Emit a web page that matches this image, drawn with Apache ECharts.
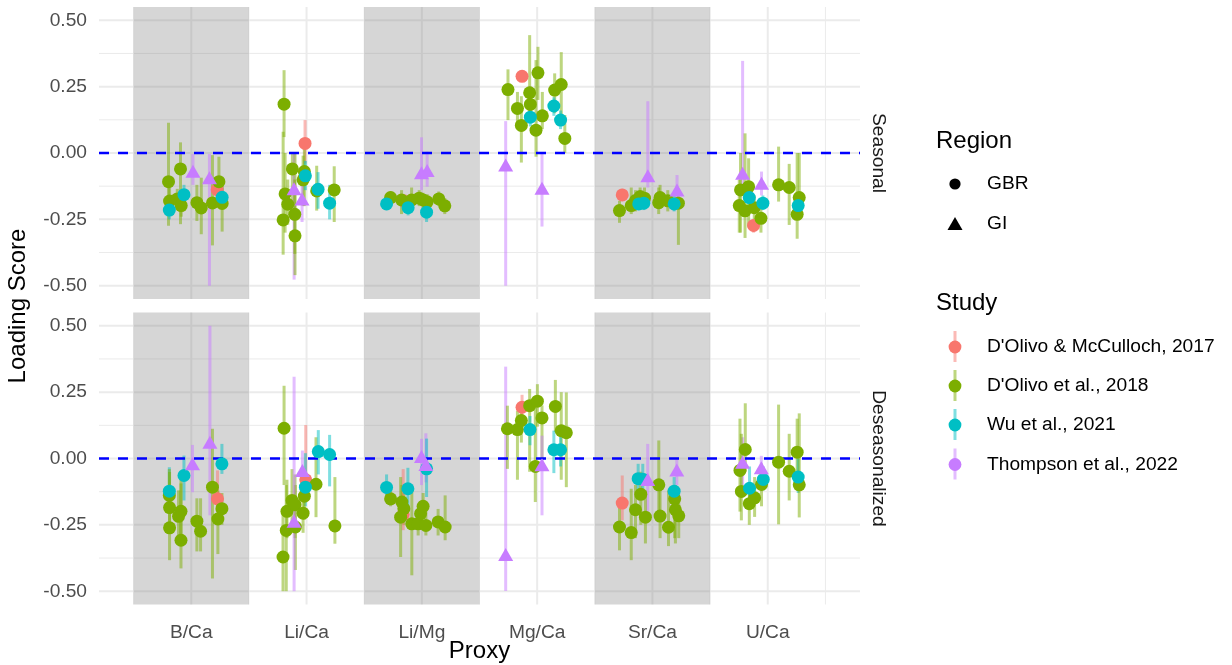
<!DOCTYPE html>
<html>
<head>
<meta charset="utf-8">
<script src="https://cdn.jsdelivr.net/npm/echarts@6/dist/echarts.min.js"></script>
<style>
  html, body { margin: 0; padding: 0; background: #ffffff; }
  #chart { width: 1232px; height: 665px; }
</style>
</head>
<body>
<div id="chart"></div>
<script>
// ---- data -----------------------------------------------------------------
const proxies = ['B/Ca', 'Li/Ca', 'Li/Mg', 'Mg/Ca', 'Sr/Ca', 'U/Ca'];
const studies = ["D'Olivo & McCulloch, 2017", "D'Olivo et al., 2018", 'Wu et al., 2021', 'Thompson et al., 2022'];
const studyRegion = ['GBR', 'GBR', 'GBR', 'GI'];
const regions = ['GBR', 'GI'];
const facets = ['Seasonal', 'Deseasonalized'];
const shadedProxies = [0, 2, 4];
const yTicks = [-0.5, -0.25, 0, 0.25, 0.5];
const zeroLine = 0;

// rows: [proxy index, horizontal jitter, study index, loading score, lower, upper]
const seasonal = [
  [0,-0.197,1,-0.108,-0.274,0.114], [0,-0.188,1,-0.181,-0.235,-0.13], [0,-0.19,2,-0.215,-0.25,-0.18],
  [0,-0.093,1,-0.060,-0.268,0.040], [0,-0.121,1,-0.173,-0.215,-0.135], [0,-0.087,1,-0.198,-0.24,-0.155],
  [0,-0.063,2,-0.157,-0.19,-0.12], [0,0.015,3,-0.069,-0.12,-0.004], [0,0.049,1,-0.187,-0.256,-0.12],
  [0,0.087,1,-0.207,-0.306,-0.093], [0,0.158,3,-0.093,-0.5,-0.004], [0,0.184,1,-0.188,-0.348,-0.008],
  [0,0.24,1,-0.108,-0.2,-0.014], [0,0.225,0,-0.138,-0.175,-0.095], [0,0.268,2,-0.167,-0.2,-0.13],
  [0,0.268,1,-0.190,-0.296,-0.11],

  [1,-0.195,1,0.184,0.06,0.312], [1,-0.013,0,0.036,-0.04,0.124], [1,-0.123,1,-0.060,-0.2,0.0],
  [1,-0.019,1,-0.070,-0.2,0.02], [1,-0.03,1,-0.101,-0.2,-0.01], [1,-0.01,2,-0.086,-0.14,-0.03],
  [1,-0.108,3,-0.135,-0.477,0.0], [1,-0.186,1,-0.154,-0.3,0.0], [1,-0.039,3,-0.173,-0.26,-0.075],
  [1,-0.163,1,-0.193,-0.27,-0.1], [1,-0.203,1,-0.252,-0.383,0.08], [1,-0.102,1,-0.231,-0.38,-0.1],
  [1,-0.1,1,-0.312,-0.46,0.0], [1,0.088,1,-0.143,-0.217,-0.048], [1,0.1,2,-0.137,-0.21,-0.072],
  [1,0.2,2,-0.189,-0.25,-0.12], [1,0.24,1,-0.139,-0.26,-0.05],

  [2,-0.271,1,-0.168,-0.19,-0.145], [2,-0.306,2,-0.192,-0.215,-0.17], [2,-0.176,1,-0.177,-0.23,-0.14],
  [2,-0.147,0,-0.183,-0.215,-0.155], [2,-0.119,2,-0.206,-0.235,-0.175], [2,-0.089,1,-0.177,-0.215,-0.13],
  [2,-0.023,1,-0.170,-0.2,-0.14], [2,0.011,1,-0.177,-0.215,-0.15], [2,0.046,1,-0.184,-0.22,-0.155],
  [2,0.041,2,-0.223,-0.26,-0.19], [2,-0.003,3,-0.074,-0.139,0.059], [2,0.046,3,-0.066,-0.127,0.005],
  [2,0.147,1,-0.173,-0.2,-0.145], [2,0.199,1,-0.199,-0.23,-0.17],

  [3,-0.253,1,0.239,0.124,0.315], [3,-0.273,3,-0.045,-0.5,0.12], [3,-0.131,0,0.289,0.27,0.31],
  [3,-0.171,1,0.168,0.10,0.23], [3,-0.137,1,0.104,-0.036,0.214], [3,-0.065,1,0.227,0.124,0.444],
  [3,-0.059,1,0.183,0.12,0.25], [3,-0.059,2,0.135,0.1,0.17], [3,-0.01,1,0.086,-0.014,0.35],
  [3,0.007,1,0.302,0.2,0.4], [3,0.045,1,0.140,0.09,0.23], [3,0.152,1,0.237,0.15,0.3],
  [3,0.209,1,0.258,0.13,0.38], [3,0.145,2,0.177,0.14,0.21], [3,0.203,2,0.124,0.09,0.16],
  [3,0.24,1,0.055,0.0,0.143], [3,0.042,3,-0.133,-0.277,-0.001],

  [4,-0.262,0,-0.158,-0.18,-0.135], [4,-0.286,1,-0.217,-0.263,-0.18], [4,-0.184,1,-0.198,-0.23,-0.13],
  [4,-0.147,1,-0.179,-0.22,-0.14], [4,-0.107,1,-0.164,-0.2,-0.13], [4,-0.069,1,-0.170,-0.21,-0.13],
  [4,-0.119,2,-0.192,-0.215,-0.165], [4,-0.075,2,-0.189,-0.215,-0.165], [4,-0.04,3,-0.086,-0.13,0.195],
  [4,0.066,1,-0.168,-0.21,-0.12], [4,0.054,1,-0.187,-0.23,-0.13], [4,0.133,1,-0.180,-0.22,-0.14],
  [4,0.213,3,-0.139,-0.2,-0.083], [4,0.188,2,-0.192,-0.22,-0.16], [4,0.225,1,-0.189,-0.346,-0.139],

  [5,-0.218,3,-0.076,-0.13,0.347], [5,-0.236,1,-0.139,-0.3,0.0], [5,-0.166,1,-0.127,-0.28,-0.02],
  [5,-0.247,1,-0.198,-0.3,-0.1], [5,-0.197,1,-0.218,-0.32,0.074], [5,-0.16,2,-0.168,-0.2,-0.13],
  [5,-0.117,1,-0.206,-0.25,-0.16], [5,-0.059,1,-0.246,-0.3,-0.19], [5,-0.123,0,-0.273,-0.3,-0.25],
  [5,-0.054,3,-0.114,-0.16,-0.07], [5,-0.042,2,-0.189,-0.215,-0.16], [5,0.094,1,-0.12,-0.183,0.024],
  [5,0.186,1,-0.13,-0.271,-0.041], [5,0.273,1,-0.168,-0.2,0.0], [5,0.264,2,-0.198,-0.23,-0.16],
  [5,0.255,1,-0.231,-0.323,0.0]
];

const deseasonalized = [
  [0,-0.19,2,-0.123,-0.17,-0.033], [0,-0.19,1,-0.139,-0.2,-0.04], [0,-0.188,1,-0.185,-0.25,-0.12],
  [0,-0.188,1,-0.261,-0.383,-0.051], [0,-0.063,2,-0.064,-0.158,0.011], [0,-0.089,1,-0.199,-0.32,-0.05],
  [0,-0.11,1,-0.218,-0.3,-0.12], [0,-0.089,1,-0.308,-0.414,-0.094], [0,0.011,3,-0.02,-0.127,0.051],
  [0,0.049,1,-0.236,-0.35,-0.15], [0,0.081,1,-0.274,-0.35,-0.15], [0,0.162,3,0.061,-0.214,0.5],
  [0,0.184,1,-0.108,-0.452,0.112], [0,0.228,0,-0.152,-0.2,-0.045], [0,0.266,1,-0.189,-0.25,-0.13],
  [0,0.231,1,-0.228,-0.36,-0.12], [0,0.266,2,-0.02,-0.058,0.055],

  [1,-0.195,1,0.114,-0.1,0.274], [1,-0.204,1,-0.371,-0.5,-0.2], [1,-0.176,1,-0.271,-0.5,-0.1],
  [1,-0.17,1,-0.199,-0.3,-0.08], [1,-0.126,1,-0.158,-0.27,-0.04], [1,-0.1,1,-0.174,-0.3,-0.06],
  [1,-0.097,1,-0.258,-0.42,-0.1], [1,-0.108,3,-0.236,-0.5,0.308], [1,-0.036,3,-0.045,-0.14,0.03],
  [1,-0.007,0,-0.08,-0.16,0.126], [1,-0.01,2,-0.108,-0.18,0.02], [1,-0.019,1,-0.142,-0.23,-0.05],
  [1,-0.03,1,-0.206,-0.28,-0.12], [1,0.082,1,-0.097,-0.221,0.08], [1,0.102,2,0.026,-0.06,0.107],
  [1,0.2,2,0.015,-0.105,0.089], [1,0.246,1,-0.254,-0.321,-0.07],

  [2,-0.306,2,-0.109,-0.15,-0.06], [2,-0.271,1,-0.152,-0.18,-0.12], [2,-0.173,1,-0.164,-0.21,-0.1],
  [2,-0.156,1,-0.189,-0.25,-0.13], [2,-0.162,0,-0.211,-0.27,-0.04], [2,-0.184,1,-0.221,-0.371,-0.07],
  [2,-0.121,2,-0.114,-0.2,-0.035], [2,-0.087,1,-0.246,-0.44,-0.108], [2,-0.032,1,-0.246,-0.29,-0.2],
  [2,-0.011,1,-0.208,-0.25,-0.16], [2,0.011,1,-0.180,-0.22,-0.13], [2,0.035,1,-0.252,-0.29,-0.2],
  [2,-0.003,3,0.008,-0.1,0.074], [2,0.035,3,-0.023,-0.09,0.095], [2,0.041,2,-0.039,-0.145,0.075],
  [2,0.141,1,-0.239,-0.29,-0.19], [2,0.202,1,-0.258,-0.308,-0.139],

  [3,-0.273,3,-0.362,-0.499,0.346], [3,-0.258,1,0.112,-0.039,0.199], [3,-0.171,1,0.109,-0.08,0.18],
  [3,-0.137,1,0.143,0.06,0.21], [3,-0.131,0,0.193,0.15,0.24], [3,-0.065,1,0.199,-0.05,0.262],
  [3,0.002,1,0.216,0.12,0.28], [3,-0.062,2,0.109,0.05,0.16], [3,0.042,1,0.153,0.0,0.2],
  [3,-0.016,1,-0.030,-0.164,0.193], [3,0.042,3,-0.024,-0.214,0.086], [3,0.158,1,0.196,0.1,0.296],
  [3,0.209,1,0.105,-0.08,0.25], [3,0.253,1,0.097,-0.108,0.249], [3,0.145,2,0.033,-0.055,0.105],
  [3,0.203,2,0.033,-0.03,0.09],

  [4,-0.262,0,-0.168,-0.233,-0.064], [4,-0.286,1,-0.258,-0.346,-0.183], [4,-0.184,1,-0.279,-0.383,-0.114],
  [4,-0.147,1,-0.193,-0.3,-0.1], [4,-0.124,2,-0.076,-0.12,-0.02], [4,-0.101,1,-0.135,-0.25,-0.05],
  [4,-0.084,2,-0.078,-0.14,-0.02], [4,-0.041,3,-0.079,-0.2,0.055], [4,-0.061,1,-0.221,-0.32,-0.12],
  [4,0.055,1,-0.099,-0.2,0.068], [4,0.066,1,-0.217,-0.3,-0.1], [4,0.139,1,-0.259,-0.33,-0.12],
  [4,0.211,3,-0.043,-0.1,0.0], [4,0.188,2,-0.123,-0.17,-0.07], [4,0.193,1,-0.152,-0.3,-0.1],
  [4,0.199,1,-0.193,-0.32,-0.1], [4,0.228,1,-0.216,-0.3,-0.15],

  [5,-0.195,1,0.034,-0.05,0.208], [5,-0.218,3,-0.014,-0.1,0.08], [5,-0.241,1,-0.045,-0.2,0.15],
  [5,-0.229,1,-0.124,-0.233,0.093], [5,-0.158,2,-0.112,-0.17,-0.03], [5,-0.16,1,-0.170,-0.25,-0.1],
  [5,-0.114,1,-0.148,-0.22,-0.07], [5,-0.056,3,-0.035,-0.08,0.01], [5,-0.039,2,-0.079,-0.12,-0.03],
  [5,-0.054,1,-0.098,-0.18,-0.02], [5,0.094,1,-0.014,-0.248,0.203], [5,0.186,1,-0.048,-0.158,0.093],
  [5,0.255,1,0.024,-0.1,0.15], [5,0.264,2,-0.07,-0.13,0.0], [5,0.273,1,-0.099,-0.222,0.17]
];

// ---- styling --------------------------------------------------------------
const studyColors = ['#F8766D', '#7CAE00', '#00BFC4', '#C77CFF'];
const FONT = '"Liberation Sans", Arial, Helvetica, sans-serif';
const facetRows = [seasonal, deseasonalized];
const panel = { left: 99, width: 761, tops: [7, 312.5], height: 292 };

function rgba(hex, a) {
  const n = parseInt(hex.slice(1), 16);
  return `rgba(${(n >> 16) & 255},${(n >> 8) & 255},${n & 255},${a})`;
}
const xOf = r => r[0] + 1 + r[1];
const symbolFor = s => (studyRegion[s] === 'GI' ? 'triangle' : 'circle');
const sizeFor = s => (studyRegion[s] === 'GI' ? [15, 13] : 13);

// axis break positions for the panel grid (major at whole units, minor halfway)
const gridLines = [];
for (let k = 1; k <= 13; k++) gridLines.push([0, k * 0.5, k % 2 === 0 ? 1 : 0]);
for (let k = -4; k <= 4; k++) gridLines.push([1, k * 0.125, k % 2 === 0 ? 1 : 0]);

const grids = panel.tops.map(t => ({ left: panel.left, width: panel.width, top: t, height: panel.height }));

const xAxes = facets.map((_, i) => ({
  type: 'value', gridIndex: i, min: 0.2, max: 6.8,
  axisLine: { show: false }, axisTick: { show: false }, splitLine: { show: false },
  axisLabel: i === facets.length - 1 ? {
    show: true, customValues: proxies.map((_, k) => k + 1),
    formatter: v => proxies[Math.round(v) - 1],
    color: '#4d4d4d', fontSize: 19.2, fontFamily: FONT, margin: 19
  } : { show: false }
}));

const yAxes = facets.map((_, i) => ({
  type: 'value', gridIndex: i, min: -0.55, max: 0.55,
  axisLine: { show: false }, axisTick: { show: false }, splitLine: { show: false },
  axisLabel: {
    customValues: yTicks, formatter: v => v.toFixed(2),
    color: '#4d4d4d', fontSize: 19.2, fontFamily: FONT, margin: 12
  }
}));

const series = [];
facets.forEach((facet, i) => {
  const rows = facetRows[i];
  // panel grid lines
  series.push({
    type: 'custom', xAxisIndex: i, yAxisIndex: i, z: 1, silent: true,
    data: gridLines,
    renderItem: (params, api) => {
      const cs = params.coordSys;
      const dir = api.value(0), v = api.value(1), major = api.value(2);
      const style = { stroke: '#ebebeb', lineWidth: major ? 2 : 1 };
      if (dir === 0) {
        const x = api.coord([v, 0])[0];
        return { type: 'line', shape: { x1: x, y1: cs.y, x2: x, y2: cs.y + cs.height }, style };
      }
      const y = api.coord([1, v])[1];
      return { type: 'line', shape: { x1: cs.x, y1: y, x2: cs.x + cs.width, y2: y }, style };
    }
  });
  // shaded proxy columns
  series.push({
    type: 'custom', xAxisIndex: i, yAxisIndex: i, z: 2, silent: true,
    data: shadedProxies.map(k => [k + 0.5, k + 1.5]),
    renderItem: (params, api) => {
      const cs = params.coordSys;
      const x0 = api.coord([api.value(0), 0])[0];
      const x1 = api.coord([api.value(1), 0])[0];
      return { type: 'rect', shape: { x: x0, y: cs.y, width: x1 - x0, height: cs.height },
               style: { fill: 'rgba(128,128,128,0.32)' } };
    }
  });
  // error bars
  series.push({
    type: 'custom', xAxisIndex: i, yAxisIndex: i, z: 3, silent: true,
    data: rows.map(r => [xOf(r), r[4], r[5], r[2]]),
    renderItem: (params, api) => {
      const p0 = api.coord([api.value(0), api.value(1)]);
      const p1 = api.coord([api.value(0), api.value(2)]);
      return { type: 'line', shape: { x1: p0[0], y1: p0[1], x2: p1[0], y2: p1[1] },
               style: { stroke: rgba(studyColors[api.value(3)], 0.5), lineWidth: 3 } };
    }
  });
  // zero reference line
  series.push({
    type: 'custom', xAxisIndex: i, yAxisIndex: i, z: 4, silent: true,
    data: [[zeroLine]],
    renderItem: (params, api) => {
      const cs = params.coordSys;
      const y = api.coord([1, api.value(0)])[1];
      return { type: 'line', shape: { x1: cs.x, y1: y, x2: cs.x + cs.width, y2: y },
               style: { stroke: '#0000ff', lineWidth: 2.4, lineDash: [10, 9] } };
    }
  });
  // points, one series per study
  studies.forEach((name, s) => {
    series.push({
      type: 'scatter', name, xAxisIndex: i, yAxisIndex: i, z: 5, silent: true,
      symbol: symbolFor(s), symbolSize: sizeFor(s),
      itemStyle: { color: studyColors[s], opacity: 1 },
      data: rows.filter(r => r[2] === s).map(r => [xOf(r), r[3]])
    });
  });
});

// titles, facet strips and legend
const text = (t, x, y, size, opts = {}) => ({
  type: 'text', x, y, rotation: opts.rotation || 0, silent: true,
  style: { text: t, font: `${size}px ${FONT}`, fill: opts.color || '#000000',
           textAlign: opts.align || 'left', textVerticalAlign: 'middle' }
});

const graphics = [
  text('Loading Score', 18, 306, 24, { rotation: Math.PI / 2, align: 'center' }),
  text('Proxy', 479.5, 651, 24, { align: 'center' })
];
facets.forEach((f, i) => {
  graphics.push(text(f, 878, panel.tops[i] + panel.height / 2, 19.2,
    { rotation: -Math.PI / 2, align: 'center', color: '#1a1a1a' }));
});

// Region legend
graphics.push(text('Region', 936, 141, 24));
const regionY = [184, 224];
regions.forEach((r, k) => {
  if (r === 'GI') {
    graphics.push({ type: 'polygon', silent: true,
      shape: { points: [[955, regionY[k] - 7], [962.5, regionY[k] + 6], [947.5, regionY[k] + 6]] },
      style: { fill: '#000000' } });
  } else {
    graphics.push({ type: 'circle', silent: true, shape: { cx: 955, cy: regionY[k], r: 5.6 },
      style: { fill: '#000000' } });
  }
  graphics.push(text(r, 987, regionY[k], 19.2));
});

// Study legend
graphics.push(text('Study', 936, 303, 24));
const studyY = [347, 386, 425, 464.5];
studies.forEach((s, k) => {
  const y = studyY[k];
  graphics.push({ type: 'line', silent: true, shape: { x1: 955, y1: y - 16, x2: 955, y2: y + 15 },
    style: { stroke: rgba(studyColors[k], 0.5), lineWidth: 3 } });
  graphics.push({ type: 'circle', silent: true, shape: { cx: 955, cy: y, r: 6.4 },
    style: { fill: studyColors[k] } });
  graphics.push(text(s, 987, y, 19.2));
});

const chart = echarts.init(document.getElementById('chart'), null, { renderer: 'canvas' });
chart.setOption({
  animation: false,
  backgroundColor: '#ffffff',
  grid: grids,
  xAxis: xAxes,
  yAxis: yAxes,
  series,
  graphic: graphics
});
</script>
</body>
</html>
